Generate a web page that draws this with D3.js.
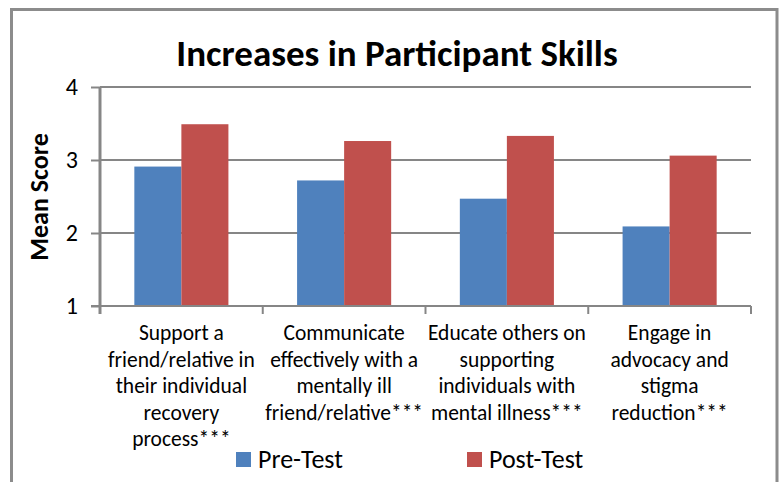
<!DOCTYPE html>
<html>
<head>
<meta charset="utf-8">
<script src="https://cdn.jsdelivr.net/npm/d3@7"></script>
<style>
  html, body { margin: 0; padding: 0; background: #ffffff; }
  svg { display: block; }
</style>
</head>
<body>
<svg id="chart" width="781" height="482"></svg>
<script>
const categories = [
  "Support a friend/relative in their individual recovery process***",
  "Communicate effectively with a mentally ill friend/relative***",
  "Educate others on supporting individuals with mental illness***",
  "Engage in advocacy and stigma reduction***"
];
// line breaks as they appear under each category
const categoryLines = [
  ["Support a", "friend/relative in", "their individual", "recovery", "process***"],
  ["Communicate", "effectively with a", "mentally ill", "friend/relative***"],
  ["Educate others on", "supporting", "individuals with", "mental illness***"],
  ["Engage in", "advocacy and", "stigma", "reduction***"]
];
const seriesNames = ["Pre-Test", "Post-Test"];
const preTest = [2.91, 2.72, 2.47, 2.09];
const postTest = [3.49, 3.26, 3.33, 3.06];
const yTicks = [1, 2, 3, 4];

const colors = { "Pre-Test": "#4f81bd", "Post-Test": "#c0504d" };
const FONT = "Calibri, Carlito, Lato, 'Open Sans', sans-serif";
const GRID = "#868686";

const svg = d3.select("#chart");

// chart frame
svg.append("path")
  .attr("d", "M11.5,490 L11.5,9.5 L777,9.5 L777,490")
  .attr("fill", "none")
  .attr("stroke", "#8c8c8c")
  .attr("stroke-width", 3);

const plot = { left: 100, right: 751, top: 87, bottom: 306 };

const x0 = d3.scaleBand()
  .domain(categories)
  .range([plot.left, plot.right])
  .padding(0);

const x1 = d3.scaleBand()
  .domain(seriesNames)
  .range([0, x0.bandwidth()])
  .paddingInner(0)
  .paddingOuter(0.73);

const y = d3.scaleLinear()
  .domain([1, 4])
  .range([plot.bottom, plot.top]);

// gridlines
svg.append("g")
  .selectAll("line")
  .data(yTicks.filter(t => t > 1))
  .join("line")
  .attr("x1", plot.left)
  .attr("x2", plot.right)
  .attr("y1", d => y(d))
  .attr("y2", d => y(d))
  .attr("stroke", GRID)
  .attr("stroke-width", 2);

// bars
const rows = categories.map((c, i) => ({ category: c, values: [preTest[i], postTest[i]] }));

const groups = svg.append("g")
  .selectAll("g")
  .data(rows)
  .join("g")
  .attr("transform", d => `translate(${x0(d.category)},0)`);

groups.selectAll("rect")
  .data(d => d.values.map((v, j) => ({ name: seriesNames[j], value: v })))
  .join("rect")
  .attr("x", d => x1(d.name))
  .attr("width", x1.bandwidth())
  .attr("y", d => y(d.value))
  .attr("height", d => y(1) - y(d.value))
  .attr("fill", d => colors[d.name]);

// y axis
const yAxis = svg.append("g")
  .attr("transform", `translate(${plot.left},0)`)
  .call(d3.axisLeft(y).tickValues(yTicks).tickFormat(d3.format("d")).tickSize(9).tickPadding(13));
yAxis.select(".domain")
  .attr("d", `M0,${plot.top}V${plot.bottom + 8}`)
  .attr("stroke", GRID)
  .attr("stroke-width", 3);
yAxis.selectAll(".tick line").attr("stroke", GRID).attr("stroke-width", 2);
yAxis.selectAll(".tick text")
  .attr("font-family", FONT)
  .attr("font-size", 24)
  .attr("fill", "#000");

// x axis
const xAxis = svg.append("g")
  .attr("transform", `translate(0,${plot.bottom})`);
xAxis.append("line")
  .attr("x1", plot.left - 9)
  .attr("x2", plot.right)
  .attr("stroke", GRID)
  .attr("stroke-width", 2);
xAxis.selectAll(".cat-tick")
  .data(categories.slice(1).map(c => x0(c)).concat([plot.right]))
  .join("line")
  .attr("class", "cat-tick")
  .attr("x1", d => d)
  .attr("x2", d => d)
  .attr("y1", 0)
  .attr("y2", 8)
  .attr("stroke", GRID)
  .attr("stroke-width", 2);

// category labels
const labels = svg.append("g")
  .selectAll("text")
  .data(categories)
  .join("text")
  .attr("text-anchor", "middle")
  .attr("font-family", FONT)
  .attr("font-size", 21.5)
  .attr("fill", "#000")
  .attr("transform", d => `translate(${x0(d) + x0.bandwidth() / 2},340)`);

labels.selectAll("tspan")
  .data((d, i) => categoryLines[i])
  .join("tspan")
  .attr("x", 0)
  .attr("y", (d, i) => i * 26.5)
  .text(d => d);

// title
svg.append("text")
  .attr("x", 397)
  .attr("y", 66)
  .attr("text-anchor", "middle")
  .attr("font-family", FONT)
  .attr("font-weight", "bold")
  .attr("font-size", 37)
  .attr("fill", "#000")
  .text("Increases in Participant Skills");

// y axis title
svg.append("text")
  .attr("transform", "translate(48,197) rotate(-90)")
  .attr("text-anchor", "middle")
  .attr("font-family", FONT)
  .attr("font-weight", "bold")
  .attr("font-size", 26)
  .attr("fill", "#000")
  .text("Mean Score");

// legend
const legendX = [236, 467];
const legend = svg.append("g")
  .selectAll("g")
  .data(seriesNames)
  .join("g")
  .attr("transform", (d, i) => `translate(${legendX[i]},452)`);
legend.append("rect")
  .attr("width", 15)
  .attr("height", 15)
  .attr("fill", d => colors[d]);
legend.append("text")
  .attr("x", 22)
  .attr("y", 16)
  .attr("font-family", FONT)
  .attr("font-size", 26)
  .attr("fill", "#000")
  .text(d => d);
</script>
</body>
</html>
